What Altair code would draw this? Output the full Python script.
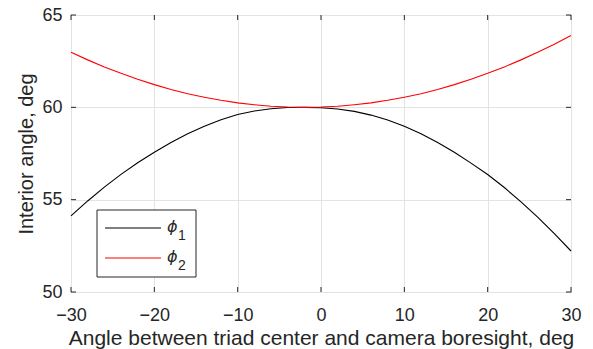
import altair as alt
import pandas as pd

angle = [-30, -28, -26, -24, -22, -20, -18, -16, -14, -12, -10, -8, -6, -4, -2,
         0, 2, 4, 6, 8, 10, 12, 14, 16, 18, 20, 22, 24, 26, 28, 30]
phi1 = [54.12, 54.93, 55.68, 56.37, 57.00, 57.57, 58.10, 58.57, 58.98, 59.33,
        59.61, 59.80, 59.92, 59.99, 60.00, 59.98, 59.91, 59.78, 59.58, 59.31,
        58.98, 58.57, 58.10, 57.57, 56.98, 56.36, 55.66, 54.88, 54.05, 53.16, 52.22]
phi2 = [62.98, 62.57, 62.19, 61.84, 61.52, 61.23, 60.97, 60.74, 60.55, 60.38,
        60.24, 60.14, 60.06, 60.02, 60.00, 60.02, 60.06, 60.14, 60.24, 60.38,
        60.55, 60.74, 60.97, 61.23, 61.52, 61.84, 62.19, 62.57, 62.98, 63.42, 63.89]
series_names = ["phi1", "phi2"]
series_symbol = ["ϕ", "ϕ"]
series_sub = ["1", "2"]
series_colors = ["#000000", "#ff0000"]
x_ticks = [-30, -20, -10, 0, 10, 20, 30]
y_ticks = [50, 55, 60, 65]

df = pd.DataFrame({
    "angle": angle * 2,
    "value": phi1 + phi2,
    "series": [series_names[0]] * len(angle) + [series_names[1]] * len(angle),
})

FONT = "Liberation Sans"
TXT = "#262626"
GRID = "#e3e3e3"

xscale = alt.Scale(domain=[-30, 30], nice=False, zero=False)
yscale = alt.Scale(domain=[50, 65], nice=False, zero=False)

lines = alt.Chart(df).mark_line(strokeWidth=1.1).encode(
    x=alt.X("angle:Q", scale=xscale,
            axis=alt.Axis(values=x_ticks, title="Angle between triad center and camera boresight, deg",
                          grid=True, gridColor=GRID, domain=False, ticks=False,
                          labelFontSize=18, labelColor=TXT, labelFont=FONT, labelPadding=14,
                          labelFlush=False, labelOverlap=False,
                          titleFontSize=21, titleFont=FONT, titleColor=TXT, titleFontWeight="normal",
                          titlePadding=3)),
    y=alt.Y("value:Q", scale=yscale,
            axis=alt.Axis(values=y_ticks, title="Interior angle, deg",
                          grid=True, gridColor=GRID, domain=False, ticks=False,
                          labelFontSize=18, labelColor=TXT, labelFont=FONT, labelPadding=9,
                          labelFlush=False, labelOverlap=False,
                          titleFontSize=20, titleFont=FONT, titleColor=TXT, titleFontWeight="normal",
                          titlePadding=5)),
    color=alt.Color("series:N", scale=alt.Scale(domain=series_names, range=series_colors),
                    legend=None),
    order=alt.Order("series:N"),
)

tick_len_x = 0.6
tick_len_y = 0.27
xt = pd.DataFrame({"t": x_ticks})
yt = pd.DataFrame({"t": y_ticks})

bottom_ticks = alt.Chart(xt).mark_rule(color=TXT, strokeWidth=1).encode(
    x=alt.X("t:Q", scale=xscale), y=alt.datum(50, scale=yscale), y2=alt.datum(50 + tick_len_y))
top_ticks = alt.Chart(xt).mark_rule(color=TXT, strokeWidth=1).encode(
    x=alt.X("t:Q", scale=xscale), y=alt.datum(65, scale=yscale), y2=alt.datum(65 - tick_len_y))
left_ticks = alt.Chart(yt).mark_rule(color=TXT, strokeWidth=1).encode(
    y=alt.Y("t:Q", scale=yscale), x=alt.datum(-30, scale=xscale), x2=alt.datum(-30 + tick_len_x))
right_ticks = alt.Chart(yt).mark_rule(color=TXT, strokeWidth=1).encode(
    y=alt.Y("t:Q", scale=yscale), x=alt.datum(30, scale=xscale), x2=alt.datum(30 - tick_len_x))

# legend box (drawn manually so the entries can carry real subscripts)
one = pd.DataFrame({"k": [0]})
legend_layers = [
    alt.Chart(one).mark_rect(fill="white", stroke=TXT, strokeWidth=1).encode(
        x=alt.value(26), x2=alt.value(125), y=alt.value(195), y2=alt.value(262))
]
row_y = [213, 243]
for i in range(2):
    legend_layers.append(
        alt.Chart(one).mark_rule(color=series_colors[i], strokeWidth=1.1).encode(
            x=alt.value(34), x2=alt.value(90), y=alt.value(row_y[i])))
    legend_layers.append(
        alt.Chart(one).mark_text(text=series_symbol[i], font="DejaVu Sans", fontSize=16,
                                 fontStyle="italic", align="left", baseline="middle",
                                 color=TXT).encode(
            x=alt.value(96), y=alt.value(row_y[i] - 1)))
    legend_layers.append(
        alt.Chart(one).mark_text(text=series_sub[i], font=FONT, fontSize=14,
                                 align="left", baseline="alphabetic", color=TXT).encode(
            x=alt.value(107), y=alt.value(row_y[i] + 12)))

chart = alt.layer(lines, bottom_ticks, top_ticks, left_ticks, right_ticks, *legend_layers).properties(
    width=500, height=277,
    autosize=alt.AutoSizeParams(type="none"),
    padding={"left": 63, "top": 7, "right": 14, "bottom": 57},
    background="white",
).configure_view(stroke=TXT, strokeWidth=1)

chart.save("out.html", embed_options={"renderer": "svg", "actions": False})
